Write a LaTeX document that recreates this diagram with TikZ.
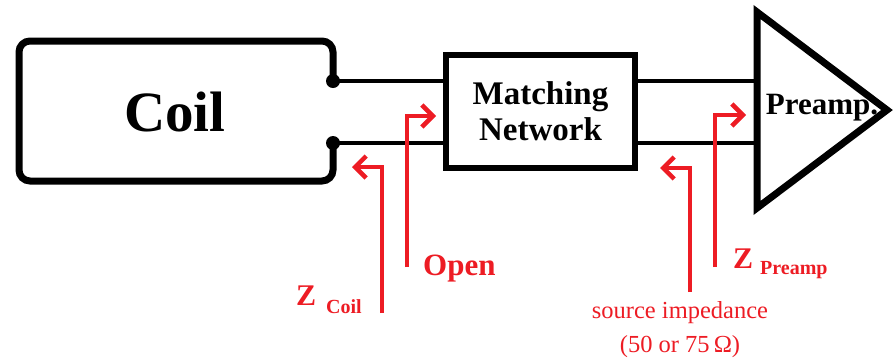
\documentclass[tikz,border=0pt]{standalone}
\usepackage{fontspec}
\setmainfont{Liberation Serif}
\usetikzlibrary{arrows.meta,calc}
\definecolor{zred}{RGB}{237,28,36}
\tikzset{
  x=1pt,y=-1pt,
  wire/.style={line width=4pt,black},
  blk/.style={line width=6.5pt,black},
  dot/.style={circle,fill=black,inner sep=0pt,minimum size=14pt},
  zarrow/.style={line width=4.5pt,zred,-{Straight Barb[length=11pt,width=22pt,line width=4.5pt]}},
  redlab/.style={text=zred,inner sep=0pt,anchor=base west},
  blacklab/.style={text=black,inner sep=0pt,font=\bfseries},
}
\begin{document}
\begin{tikzpicture}
\useasboundingbox (0,0) rectangle (893,360);
% Coil
\node[dot] (t1) at (333,81) {};
\node[dot] (t2) at (333,143) {};
\draw[blk,line width=7pt,rounded corners=11pt] (t1.center) -- (333,41) -- (19,41) -- (19,181) -- (333,181) -- (t2.center);
\node[blacklab,font=\bfseries\fontsize{57}{60}\selectfont] (coil) at (175,112) {Coil};
% Matching network
\node[blk,draw,minimum width=189pt,minimum height=113pt,inner sep=0pt,align=center,
      font=\bfseries\fontsize{33}{36}\selectfont] (mn) at (540.5,111.5) {Matching\\Network};
% Preamp triangle
\coordinate (pt) at (757,12);
\coordinate (pb) at (757,208);
\coordinate (pa) at (887,110);
\draw[blk,line width=7pt,miter limit=20] (pt) -- (pa) -- (pb) -- cycle;
\node[blacklab,font=\bfseries\fontsize{31}{35}\selectfont] (pre) at (822,108) {Preamp.};
% wires
\draw[wire] (t1.center) -- (t1 -| mn.west);
\draw[wire] (t2.center) -- (t2 -| mn.west);
\draw[wire] (mn.east |- t1) -- (pt |- t1);
\draw[wire] (mn.east |- t2) -- (pt |- t2);
% red arrows
\coordinate (zc0) at (382,313);
\coordinate (zc1) at (382,167);
\coordinate (zc2) at (352,167);
\draw[zarrow] (zc0) -- (zc1) -- (zc2);
\coordinate (op0) at (407,267);
\coordinate (op1) at (407,116);
\coordinate (op2) at (436,116);
\draw[zarrow] (op0) -- (op1) -- (op2);
\coordinate (sr0) at (690,292);
\coordinate (sr1) at (690,168);
\coordinate (sr2) at (660,168);
\draw[zarrow] (sr0) -- (sr1) -- (sr2);
\coordinate (zp0) at (715,267);
\coordinate (zp1) at (715,115);
\coordinate (zp2) at (746,115);
\draw[zarrow] (zp0) -- (zp1) -- (zp2);
% labels
\node[redlab,font=\bfseries\fontsize{30}{32}\selectfont] (zcz) at (296,305) {Z};
\node[redlab,font=\bfseries\fontsize{20}{22}\selectfont] (zcs) at (326,313) {Coil};
\node[redlab,font=\bfseries\fontsize{31}{33}\selectfont] (open) at (423,275) {Open};
\node[redlab,font=\bfseries\fontsize{30}{32}\selectfont] (zpz) at (733,268) {Z};
\node[redlab,font=\bfseries\fontsize{20}{22}\selectfont] (zps) at (760,274) {Preamp};
\node[text=zred,inner sep=0pt,align=center,font=\fontsize{24.5}{34}\selectfont] (src) at (680,330) {source impedance\\(50 or 75\,Ω)};
\end{tikzpicture}
\end{document}
